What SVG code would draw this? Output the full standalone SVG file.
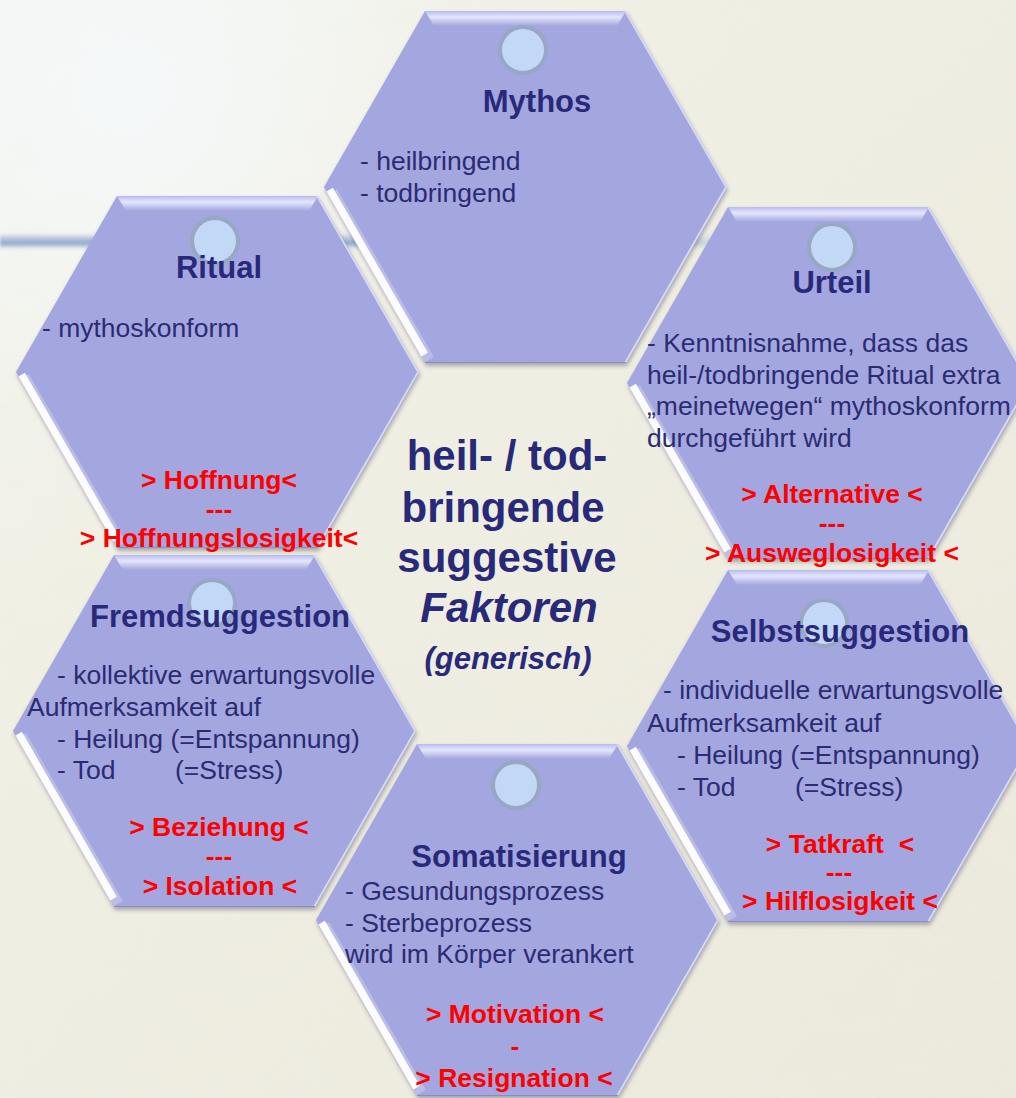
<svg xmlns="http://www.w3.org/2000/svg" xmlns:xlink="http://www.w3.org/1999/xlink" width="1016" height="1098" viewBox="0 0 1016 1098">
  <style>
    .title { font-family: "Liberation Sans", Arial, Helvetica, sans-serif; font-weight: bold; font-size: 31px; fill: #29297a; text-anchor: middle; }
    .body { font-family: "Liberation Sans", Arial, Helvetica, sans-serif; font-size: 26.5px; fill: #2b2b72; white-space: pre; }
    .red { font-family: "Liberation Sans", Arial, Helvetica, sans-serif; font-weight: bold; font-size: 26.5px; fill: #ff0000; text-anchor: middle; white-space: pre; }
    .center { font-family: "Liberation Sans", Arial, Helvetica, sans-serif; font-weight: bold; font-size: 42px; fill: #29297a; text-anchor: middle; }
    .sub { font-size: 31px; font-style: italic; }
    .dot { fill: #c3d7f7; stroke: #97a7c4; stroke-width: 4; }
  </style>
  <defs>
    <!-- flat-topped hexagon, 403 x 352 -->
    <path id="hexPath" d="M101,0H302L403,176L302,352H101L0,176Z"/>
    <clipPath id="hexClip" clipPathUnits="userSpaceOnUse">
      <use xlink:href="#hexPath"/>
    </clipPath>
    <linearGradient id="topBevel" x1="0" y1="0" x2="0" y2="1">
      <stop offset="0" stop-color="#b8bbef"/>
      <stop offset="0.4" stop-color="#e4e6fc"/>
      <stop offset="1" stop-color="#a4a6e0"/>
    </linearGradient>
    <linearGradient id="paper" x1="0" y1="0" x2="1" y2="1">
      <stop offset="0" stop-color="#f3f6f1"/>
      <stop offset="0.35" stop-color="#f0efe3"/>
      <stop offset="1" stop-color="#ebe9dc"/>
    </linearGradient>
    <radialGradient id="glare" cx="130" cy="90" r="330" gradientUnits="userSpaceOnUse">
      <stop offset="0" stop-color="#f6f9fb" stop-opacity="0.9"/>
      <stop offset="1" stop-color="#f6f9fb" stop-opacity="0"/>
    </radialGradient>
    <linearGradient id="streak" x1="0" y1="0" x2="0" y2="1">
      <stop offset="0" stop-color="#d2ddea" stop-opacity="0"/>
      <stop offset="0.35" stop-color="#b7c8de"/>
      <stop offset="0.65" stop-color="#8ea8cc"/>
      <stop offset="1" stop-color="#c9d6e6" stop-opacity="0"/>
    </linearGradient>
    <linearGradient id="streakFade" x1="0" y1="0" x2="1" y2="0">
      <stop offset="0" stop-color="#fff" stop-opacity="1"/>
      <stop offset="0.8" stop-color="#fff" stop-opacity="1"/>
      <stop offset="1" stop-color="#fff" stop-opacity="0"/>
    </linearGradient>
    <mask id="streakMask">
      <rect x="0" y="220" width="760" height="40" fill="url(#streakFade)"/>
    </mask>
    <filter id="soft" x="-5%" y="-50%" width="110%" height="200%">
      <feGaussianBlur stdDeviation="1.5"/>
    </filter>
    <filter id="grain" x="0" y="0" width="100%" height="100%">
      <feTurbulence type="fractalNoise" baseFrequency="0.018 0.03" numOctaves="4" seed="7"/>
      <feColorMatrix values="0 0 0 0 0.86  0 0 0 0 0.85  0 0 0 0 0.78  1.6 0 0 0 -0.75"/>
    </filter>
    <filter id="hexShadow" x="-10%" y="-10%" width="120%" height="120%">
      <feGaussianBlur in="SourceAlpha" stdDeviation="2.2"/>
      <feOffset dx="1" dy="3" result="blur"/>
      <feFlood flood-color="#4e4e66" flood-opacity="0.45"/>
      <feComposite in2="blur" operator="in"/>
      <feMerge>
        <feMergeNode/>
        <feMergeNode in="SourceGraphic"/>
      </feMerge>
    </filter>
    <!-- bevelled hexagon tile -->
    <g id="hexBody">
      <use xlink:href="#hexPath" fill="#a4a6e0" filter="url(#hexShadow)"/>
      <g clip-path="url(#hexClip)">
        <polygon points="101,0 302,0 293,15 110,15" fill="url(#topBevel)"/>
        <polyline points="302,0 403,176 302,352" fill="none" stroke="#e2e4fb" stroke-width="3.5" opacity="0.85"/>
        <line x1="6" y1="182" x2="103" y2="350" stroke="#ffffff" stroke-width="16" opacity="0.25"/>
        <line x1="5" y1="179" x2="100" y2="344" stroke="#ffffff" stroke-width="9" opacity="0.95"/>
        <line x1="101" y1="352" x2="302" y2="352" stroke="#8a8cc4" stroke-width="2"/>
      </g>
    </g>
  </defs>

  <!-- parchment background -->
  <rect width="1016" height="1098" fill="url(#paper)"/>
  <rect width="1016" height="1098" filter="url(#grain)" opacity="0.45"/>
  <rect width="1016" height="1098" fill="url(#glare)"/>
  <rect x="0" y="232" width="760" height="18" fill="url(#streak)" mask="url(#streakMask)" filter="url(#soft)"/>

  <g id="node-mythos">
    <use xlink:href="#hexBody" transform="translate(324,11)"/>
    <circle class="dot" cx="523" cy="50" r="23"/>
    <text class="title" x="537" y="112">Mythos</text>
    <text class="body" x="360" y="170">- heilbringend</text>
    <text class="body" x="360" y="202">- todbringend</text>
  </g>

  <g id="node-ritual">
    <use xlink:href="#hexBody" transform="translate(16,196)"/>
    <circle class="dot" cx="215" cy="241" r="23"/>
    <text class="title" x="219" y="278">Ritual</text>
    <text class="body" x="42" y="337">- mythoskonform</text>
    <text class="red" x="219" y="489">&gt; Hoffnung&lt;</text>
    <text class="red" x="219" y="518">---</text>
    <text class="red" x="219" y="547">&gt; Hoffnungslosigkeit&lt;</text>
  </g>

  <g id="node-urteil">
    <use xlink:href="#hexBody" transform="translate(627,207)"/>
    <circle class="dot" cx="832" cy="247" r="23"/>
    <text class="title" x="832" y="293">Urteil</text>
    <text class="body" x="647" y="352">- Kenntnisnahme, dass das</text>
    <text class="body" x="647" y="383.5">heil-/todbringende Ritual extra</text>
    <text class="body" x="647" y="415">„meinetwegen“ mythoskonform</text>
    <text class="body" x="647" y="446.5">durchgeführt wird</text>
    <text class="red" x="832" y="503">&gt; Alternative &lt;</text>
    <text class="red" x="832" y="532">---</text>
    <text class="red" x="832" y="562">&gt; Ausweglosigkeit &lt;</text>
  </g>

  <g id="node-fremdsuggestion">
    <use xlink:href="#hexBody" transform="translate(13,555)"/>
    <circle class="dot" cx="212" cy="603" r="23"/>
    <text class="title" x="220" y="627">Fremdsuggestion</text>
    <text class="body" x="57" y="684">- kollektive erwartungsvolle</text>
    <text class="body" x="27" y="716">Aufmerksamkeit auf</text>
    <text class="body" x="57" y="748">- Heilung (=Entspannung)</text>
    <text class="body" x="57" y="779">- Tod</text>
    <text class="body" x="175" y="779">(=Stress)</text>
    <text class="red" x="219" y="836">&gt; Beziehung &lt;</text>
    <text class="red" x="219" y="865">---</text>
    <text class="red" x="220" y="895">&gt; Isolation &lt;</text>
  </g>

  <g id="node-selbstsuggestion">
    <use xlink:href="#hexBody" transform="translate(627,570)"/>
    <circle class="dot" cx="824" cy="623" r="23"/>
    <text class="title" x="840" y="642">Selbstsuggestion</text>
    <text class="body" x="663" y="699">- individuelle erwartungsvolle</text>
    <text class="body" x="647" y="732">Aufmerksamkeit auf</text>
    <text class="body" x="677" y="764">- Heilung (=Entspannung)</text>
    <text class="body" x="677" y="796">- Tod</text>
    <text class="body" x="795" y="796">(=Stress)</text>
    <text class="red" x="840" y="853">&gt; Tatkraft  &lt;</text>
    <text class="red" x="839" y="881">---</text>
    <text class="red" x="840" y="910">&gt; Hilflosigkeit &lt;</text>
  </g>

  <g id="node-somatisierung">
    <use xlink:href="#hexBody" transform="translate(316,744)"/>
    <circle class="dot" cx="516" cy="785" r="23"/>
    <text class="title" x="519" y="867">Somatisierung</text>
    <text class="body" x="345" y="900">- Gesundungsprozess</text>
    <text class="body" x="345" y="932">- Sterbeprozess</text>
    <text class="body" x="345" y="963">wird im Körper verankert</text>
    <text class="red" x="515" y="1023">&gt; Motivation &lt;</text>
    <text class="red" x="515" y="1055">-</text>
    <text class="red" x="514" y="1087">&gt; Resignation &lt;</text>
  </g>

  <g id="node-center">
    <text class="center" x="507" y="470">heil- / tod-</text>
    <text class="center" x="503" y="522">bringende</text>
    <text class="center" x="507" y="572">suggestive</text>
    <text class="center" x="509" y="622" font-style="italic" style="font-style:italic">Faktoren</text>
    <text class="center sub" x="508" y="669">(generisch)</text>
  </g>
</svg>
